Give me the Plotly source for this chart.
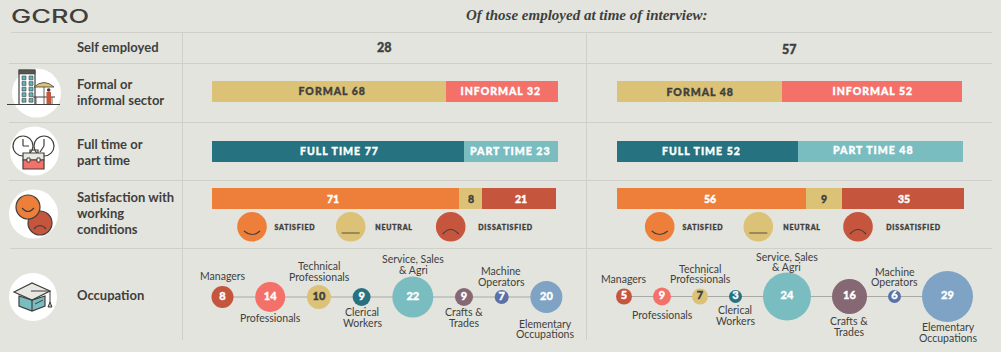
import plotly.graph_objects as go

# ---------- data ----------
self_employed = ["28", "57"]
sector_labels = [["FORMAL 68", "INFORMAL 32"], ["FORMAL 48", "INFORMAL 52"]]
sector_lengths = [[67.6, 32.4], [47.7, 52.3]]
hours_labels = [["FULL TIME 77", "PART TIME 23"], ["FULL TIME 52", "PART TIME 48"]]
hours_lengths = [[73.0, 27.0], [52.6, 47.6]]
satisfaction_labels = [["71", "8", "21"], ["56", "9", "35"]]
satisfaction_lengths = [[71.4, 6.7, 21.4], [54.8, 10.5, 35.4]]
satisfaction_names = ["SATISFIED", "NEUTRAL", "DISSATISFIED"]
occupation_names = ["Managers", "Professionals", "Technical\nProfessionals", "Clerical\nWorkers",
                    "Service, Sales\n& Agri", "Crafts &\nTrades", "Machine\nOperators", "Elementary\nOccupations"]
occupation_values = [[8, 14, 10, 9, 22, 9, 7, 20], [5, 9, 7, 3, 24, 16, 6, 29]]
row_titles = ["Self employed", "Formal or\ninformal sector", "Full time or\npart time",
              "Satisfaction with\nworking\nconditions", "Occupation"]

# ---------- style and layout ----------
BG = "#e3e4dd"; INK = "#403f3d"; RULE = "#cfd0ca"
GOLD = "#dcc277"; CORAL = "#f4716a"; TEAL = "#267280"; AQUA = "#79bdc1"
ORANGE = "#ee7f3b"; BRICK = "#c6553e"; MAUVE = "#856873"; INDIGO = "#5a71a8"; SKY = "#7fa3c4"
BODY = "Lato"; SERIF = "Liberation Serif"
occupation_colors = [BRICK, CORAL, GOLD, TEAL, AQUA, MAUVE, INDIGO, SKY]
occupation_text = ["white", "white", INK, "white", "white", "white", "white", "white"]
bubble_diameters = [[22, 30, 24, 18, 41, 18, 14, 32], [16, 18, 16, 13, 48, 35, 13, 51]]
bubble_start = [211.5, 616.0]; bubble_gap = [21.7, 21.0]; bubble_y = [297, 296.5]
bar_start = [211.7, 617.0]; bar_span = [346.0, 345.0]
row_y = [91.3, 151.5, 198.5]; BAR_H = 21
# where each printed bar label sits: (centre x, centre y)
label_pos = [
    [[(332.3, 90.9), (501, 90.9)], [(339, 151), (509.7, 151)], [(333.2, 199.2), (471, 199.2), (521, 199.2)]],
    [[(699.8, 91.7), (872.7, 91)], [(701.7, 151), (873.3, 150)], [(710, 199), (823.7, 199), (904, 199)]],
]

fig = go.Figure()
ann = []; shapes = []

def lines(text, x, y, pitch, size, color=INK, weight=400, anchor="center", fam=BODY, style="normal"):
    parts = text.split("\n")
    for i, p in enumerate(parts):
        ann.append(dict(x=x, y=y + i * pitch, xref="x", yref="y", text=p, showarrow=False, xanchor=anchor,
                        yanchor="middle", font=dict(family=fam, size=size, color=color, weight=weight, style=style)))

def seg(kind, **kw):
    shapes.append(dict(type=kind, xref="x", yref="y", layer="above", **kw))

def circle(cx, cy, r, fill, line=None, w=1.2):
    seg("circle", x0=cx - r, x1=cx + r, y0=cy - r, y1=cy + r, fillcolor=fill,
        line=dict(color=line or fill, width=w if line else 0))

def path(d, color=INK, w=1.2, fill=None):
    seg("path", path=d, line=dict(color=color, width=w), fillcolor=fill or "rgba(0,0,0,0)")

# rules
for y, x0 in [(32.5, 11), (63.5, 9), (122.5, 9), (180.5, 9), (248.5, 10)]:
    shapes.append(dict(type="line", x0=x0, x1=992, y0=y, y1=y, xref="x", yref="y", layer="below",
                       line=dict(color=RULE, width=1)))
for x in (182.5, 586.5):
    shapes.append(dict(type="line", x0=x, x1=x, y0=32, y1=340, xref="x", yref="y", layer="below",
                       line=dict(color=RULE, width=1)))

# stacked bars, one x axis per panel
for p in range(2):
    rows = [(sector_lengths[p], sector_labels[p], [GOLD, CORAL], [INK, "white"]),
            (hours_lengths[p], hours_labels[p], [TEAL, AQUA], ["white", "white"]),
            (satisfaction_lengths[p], satisfaction_labels[p], [ORANGE, GOLD, BRICK], ["white", INK, "white"])]
    for r, (lengths, labels, cols, tcols) in enumerate(rows):
        base = 0
        for i, (v, lab, c, tc) in enumerate(zip(lengths, labels, cols, tcols)):
            fig.add_trace(go.Bar(x=[v], y=[row_y[r]], base=[base], width=BAR_H, orientation="h",
                                 xaxis="x2" if p == 0 else "x3", yaxis="y", marker=dict(color=c, line=dict(width=0)),
                                 cliponaxis=False, hoverinfo="skip"))
            lx, ly = label_pos[p][r][i]
            lines(lab, lx, ly, 0, 10.5, color=tc, weight=900)
            base += v

# occupation bubbles
for p in range(2):
    xs = []; edge = bubble_start[p]
    for d in bubble_diameters[p]:
        xs.append(edge + d / 2); edge += d + bubble_gap[p]
    fig.add_trace(go.Scatter(x=xs, y=[bubble_y[p]] * 8, mode="lines+markers+text", xaxis="x", yaxis="y",
                             line=dict(color="#a9a9a3", width=1.2),
                             marker=dict(size=bubble_diameters[p], color=occupation_colors, opacity=1, line=dict(width=0)),
                             text=[str(v) for v in occupation_values[p]], textposition="middle center",
                             textfont=dict(family=BODY, size=11, color=occupation_text, weight=900), hoverinfo="skip"))

# header text
lines("GCRO", 50, 16.5, 0, 18, color=INK, weight=500, fam="Inter")
lines("Of those employed at time of interview:", 587, 15, 0, 15, fam=SERIF, weight=700, style="italic")
for t, y in zip(row_titles, [47, 84, 144, 197, 295]):
    lines(t, 74.5, y, 16, 13, weight=700, anchor="left")
lines(self_employed[0], 384, 47.5, 0, 12.5, weight=900)
lines(self_employed[1], 789, 49.5, 0, 12.5, weight=900)

# occupation captions
cap_left = [(222.5, 275.5), (270, 318), (319, 266), (362, 312), (413, 259), (463.5, 312), (501, 271), (545, 323.5)]
cap_right = [(624, 278.5), (662, 315), (700, 268.5), (735, 310), (786.5, 256.5), (849, 321), (894.5, 271.5), (948, 327)]
for caps in (cap_left, cap_right):
    for name, (x, y) in zip(occupation_names, caps):
        lines(name, x, y, 10.5, 10.5)

# satisfaction key
face_x = [[252, 350.7, 450.7], [659.7, 758.3, 858]]
key_x = [[294.5, 394, 505.5], [702.5, 801.5, 913.5]]
for p in range(2):
    for i, (fx, kx, name) in enumerate(zip(face_x[p], key_x[p], satisfaction_names)):
        circle(fx, 226.7, 14.8, [ORANGE, GOLD, BRICK][i])
        if i == 0:
            path(f"M{fx-8},{227+4} Q{fx},{227+11} {fx+8},{227+4}")
        elif i == 1:
            path(f"M{fx-9},{233} L{fx+9},{233}", color="#8a7a55", w=1.6)
        else:
            path(f"M{fx-8},{234} Q{fx},{225} {fx+8},{234}")
        lines(name, kx, 227, 0, 7, weight=900)

# icon 1: building and stall
circle(36.5, 93, 24.5, "white")
path("M19,104 L19,70 L35,70 L35,104", w=1.2, fill="white")
path("M19,70 L35,70 L35,74 L19,74 Z", fill="#58544f", w=0.6)
for row in range(5):
    for col in range(2):
        x0 = 22 + col * 7; y0 = 76 + row * 5.6
        seg("rect", x0=x0, x1=x0 + 4, y0=y0, y1=y0 + 3.8, fillcolor="#62b4b8", line=dict(color=INK, width=0.6))
path("M34,87 Q44,78 54,87 Z", fill=GOLD, w=0.8)
path("M44,87 L44,104", w=0.8)
path("M33,97 L55,97", w=1)
path("M36,97 L36,104 M52,97 L52,104", w=0.8)
seg("rect", x0=46.5, x1=51, y0=92, y1=104, fillcolor=BRICK, line=dict(width=0))
circle(48.7, 90, 1.8, INK)
path("M7,104.5 L60,104.5", w=1.2)

# icon 2: clocks and briefcase
circle(34.5, 151, 24.5, "white")
circle(23, 146, 10, "white", INK)
circle(44, 146, 10, "white", INK)
path("M23,146 L23,139 M23,146 L29,146")
path("M44,146 L44,139 M44,146 L40,152")
path("M30,153 L30,150 L38,150 L38,153", w=1.2)
seg("rect", x0=23, x1=44, y0=153, y1=160, fillcolor="#e8e8e2", line=dict(color=INK, width=1.2))
seg("rect", x0=23, x1=44, y0=160, y1=169, fillcolor=CORAL, line=dict(color=INK, width=1.2))
seg("rect", x0=27, x1=30, y0=158, y1=162, fillcolor="white", line=dict(color=INK, width=1))
seg("rect", x0=37, x1=40, y0=158, y1=162, fillcolor="white", line=dict(color=INK, width=1))

# icon 3: two faces
circle(33.5, 214, 24.5, "white")
circle(40, 223, 12, BRICK, INK)
path("M34,229 Q40,222 46,229")
circle(28, 207, 12, ORANGE, INK)
path("M22,208 Q28,215 34,208")

# icon 4: graduation cap
circle(33, 297, 24, "white")
path("M19,296 L19,306 L32,311 L45,306 L45,296 L32,300 Z", fill=AQUA, w=1.2)
path("M32,300 L32,311")
path("M35,304 L43,300", w=1)
path("M14,292 L32,283 L50,291 L32,300 Z", fill="#e8e8e2", w=1.2)
path("M31,291 L50,291 L50,304", w=1)
path("M48,307 L50,302 L52,307 Z", fill="#b9b9b2", w=1)

x_rng = []
for s, w in zip(bar_start, bar_span):
    k = w / 100
    x_rng.append([(0 - s) / k, (1001 - s) / k])

hidden = dict(visible=False, fixedrange=True)
fig.update_layout(
    width=1001, height=352, margin=dict(l=0, r=0, t=0, b=0), paper_bgcolor=BG, plot_bgcolor=BG,
    showlegend=False, barmode="overlay", bargap=0, annotations=ann, shapes=shapes,
    xaxis=dict(range=[0, 1001], domain=[0, 1], **hidden),
    xaxis2=dict(range=x_rng[0], domain=[0, 1], overlaying="x", anchor="y", **hidden),
    xaxis3=dict(range=x_rng[1], domain=[0, 1], overlaying="x", anchor="y", **hidden),
    yaxis=dict(range=[352, 0], domain=[0, 1], **hidden),
)

post = """
document.documentElement.style.margin='0';
document.documentElement.style.background='#e3e4dd';
document.body.style.margin='0';
document.body.style.overflow='hidden';
function heavy(t){ t.style.stroke=t.style.fill; t.style.strokeWidth='0.35px'; }
document.querySelectorAll('.textpoint text').forEach(heavy);
document.querySelectorAll('.annotation-text').forEach(function(t){
  var s=t.textContent;
  if (t.style.fontWeight==='900') {
    heavy(t);
    if (/[A-Z]/.test(s)) t.style.letterSpacing = s.length>0 && /^(SATISFIED|NEUTRAL|DISSATISFIED)$/.test(s) ? '0.8px' : '1px';
  }
  if (s==='GCRO') {
    var cx = parseFloat(t.getAttribute('x'));
    t.setAttribute('transform','translate('+cx+',0) scale(1.5,1) translate('+(-cx)+',0)');
  }
});
"""
fig.write_html("out.html", config=dict(displayModeBar=False, staticPlot=True), post_script=post)
